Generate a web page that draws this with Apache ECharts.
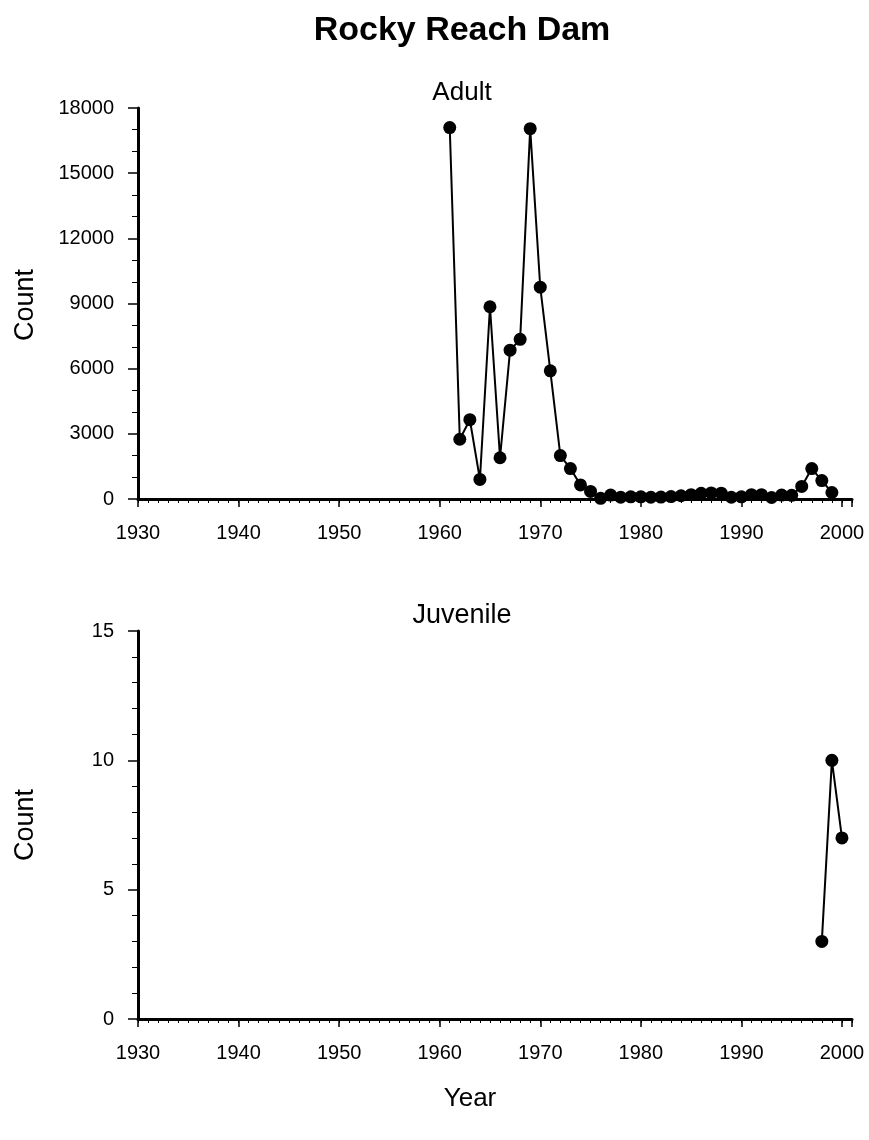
<!DOCTYPE html>
<html>
<head>
<meta charset="utf-8">
<script src="https://cdn.jsdelivr.net/npm/echarts@6/dist/echarts.min.js"></script>
<style>
  html, body { margin: 0; padding: 0; background: #fff; }
  #box { width: 869px; height: 1140px; }
</style>
</head>
<body>
<div id="box"></div>
<script>
// adult counts at Rocky Reach Dam
const adultYears = [1961, 1962, 1963, 1964, 1965, 1966, 1967, 1968, 1969, 1970,
  1971, 1972, 1973, 1974, 1975, 1976, 1977, 1978, 1979, 1980,
  1981, 1982, 1983, 1984, 1985, 1986, 1987, 1988, 1989, 1990,
  1991, 1992, 1993, 1994, 1995, 1996, 1997, 1998, 1999];
const adultCounts = [17100, 2750, 3650, 900, 8850, 1900, 6850, 7350, 17050, 9750,
  5900, 2000, 1400, 650, 350, 30, 180, 80, 100, 100,
  80, 90, 110, 150, 200, 260, 280, 270, 80, 100,
  200, 200, 70, 180, 170, 580, 1400, 850, 300];

// juvenile counts
const juvYears = [1998, 1999, 2000];
const juvCounts = [3, 10, 7];

const xTickLabels = [1930, 1940, 1950, 1960, 1970, 1980, 1990, 2000];

const font = 'Liberation Sans, Arial, sans-serif';
const chart = echarts.init(document.getElementById('box'));

function xAxes(gridIndex) {
  return [
    {
      type: 'value', gridIndex: gridIndex, position: 'bottom',
      min: 1930, max: 2001, interval: 10,
      axisLine: { show: true, onZero: false, lineStyle: { color: '#000', width: 3 } },
      axisTick: { show: true, length: 8, lineStyle: { color: '#000', width: 1.5 } },
      axisLabel: {
        margin: 24, color: '#000', fontSize: 20, fontFamily: font,
        formatter: v => (xTickLabels.indexOf(v) >= 0 ? String(v) : '')
      },
      splitLine: { show: false }
    },
    {
      type: 'value', gridIndex: gridIndex, position: 'bottom',
      min: 1930, max: 2001, interval: 1,
      axisLine: { show: false, onZero: false },
      axisTick: { show: true, length: 4, lineStyle: { color: '#000', width: 1 } },
      axisLabel: { show: false },
      splitLine: { show: false }
    }
  ];
}

function yAxis(gridIndex, max, interval, minorSplit) {
  return {
    type: 'value', gridIndex: gridIndex, min: 0, max: max, interval: interval,
    axisLine: { show: true, lineStyle: { color: '#000', width: 3 } },
    axisTick: { show: true, length: 10, lineStyle: { color: '#000', width: 1.5 } },
    minorTick: { show: true, splitNumber: minorSplit, length: 6, lineStyle: { color: '#000', width: 1 } },
    axisLabel: { margin: 24, color: '#000', fontSize: 20, fontFamily: font, formatter: v => String(v) },
    splitLine: { show: false }
  };
}

const lineSeries = (name, xi, yi, years, counts) => ({
  name: name,
  type: 'line',
  xAxisIndex: xi,
  yAxisIndex: yi,
  data: years.map((y, i) => [y, counts[i]]),
  symbol: 'circle',
  symbolSize: 13,
  itemStyle: { color: '#000' },
  lineStyle: { color: '#000', width: 2 },
  animation: false
});

const option = {
  backgroundColor: '#fff',
  animation: false,
  title: [
    { text: 'Rocky Reach Dam', left: 462, top: 14, textAlign: 'center', padding: 0,
      textStyle: { fontFamily: font, fontSize: 34, fontWeight: 'bold', color: '#000' } },
    { text: 'Adult', left: 462, top: 80, textAlign: 'center', padding: 0,
      textStyle: { fontFamily: font, fontSize: 26, fontWeight: 'normal', color: '#000' } },
    { text: 'Juvenile', left: 462, top: 602, textAlign: 'center', padding: 0,
      textStyle: { fontFamily: font, fontSize: 27, fontWeight: 'normal', color: '#000' } },
    { text: 'Year', left: 470, top: 1086, textAlign: 'center', padding: 0,
      textStyle: { fontFamily: font, fontSize: 26, fontWeight: 'normal', color: '#000' } }
  ],
  graphic: [
    { type: 'text', left: 12, top: 269, rotation: Math.PI / 2,
      style: { text: 'Count', font: '27px ' + font, fill: '#000' } },
    { type: 'text', left: 12, top: 789, rotation: Math.PI / 2,
      style: { text: 'Count', font: '27px ' + font, fill: '#000' } }
  ],
  grid: [
    { left: 138, top: 108, width: 714, height: 391 },
    { left: 138, top: 631, width: 714, height: 388 }
  ],
  xAxis: [...xAxes(0), ...xAxes(1)],
  yAxis: [yAxis(0, 18000, 3000, 3), yAxis(1, 15, 5, 5)],
  series: [
    lineSeries('Adult', 0, 0, adultYears, adultCounts),
    lineSeries('Juvenile', 2, 1, juvYears, juvCounts)
  ]
};
chart.setOption(option);
</script>
</body>
</html>
